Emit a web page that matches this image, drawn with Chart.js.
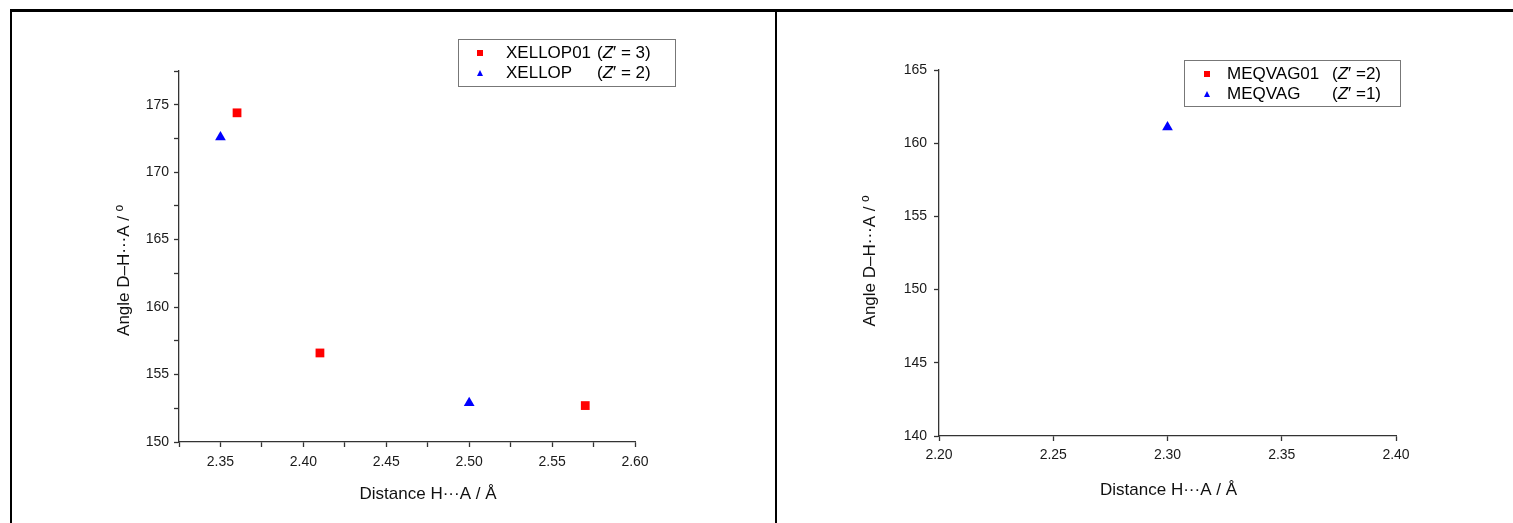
<!DOCTYPE html>
<html>
<head>
<meta charset="utf-8">
<script src="https://cdn.jsdelivr.net/npm/chart.js@4"></script>
<style>
body { margin: 0; background: #fff; width: 1513px; height: 523px; overflow: hidden; position: relative; font-family: "Liberation Sans", Arial, sans-serif; }
.line { position: absolute; background: #000; }
canvas { position: absolute; }
.legend { position: absolute; border: 1px solid #777; box-sizing: border-box; }
.item { position: absolute; font-size: 17px; line-height: 20px; color: #000; white-space: nowrap; }
.sq { position: absolute; width: 6px; height: 6px; background: #ff0000; }
.tri { position: absolute; width: 0; height: 0; border-left: 3.5px solid transparent; border-right: 3.5px solid transparent; border-bottom: 6px solid #0000ff; }
</style>
</head>
<body>

<div class="line" style="left:10px;top:9px;width:1503px;height:2.5px"></div>
<div class="line" style="left:10px;top:9px;width:2px;height:514px"></div>
<div class="line" style="left:775px;top:9px;width:2px;height:514px"></div>

<canvas id="leftChart" width="763" height="511" style="left:12px;top:12px"></canvas>
<canvas id="rightChart" width="736" height="511" style="left:777px;top:12px"></canvas>

<!-- legend left -->
<div class="legend" style="left:458px;top:39px;width:218px;height:48px"></div>
<div class="sq" style="left:477px;top:50px"></div>
<div class="item" style="left:506px;top:43px">XELLOP01</div>
<div class="item" style="left:597px;top:43px">(<i>Z</i>′ = 3)</div>
<div class="tri" style="left:476.5px;top:70px"></div>
<div class="item" style="left:506px;top:63px">XELLOP</div>
<div class="item" style="left:597px;top:63px">(<i>Z</i>′ = 2)</div>

<!-- legend right -->
<div class="legend" style="left:1184px;top:60px;width:217px;height:47px"></div>
<div class="sq" style="left:1204px;top:71px"></div>
<div class="item" style="left:1227px;top:64px">MEQVAG01</div>
<div class="item" style="left:1332px;top:64px">(<i>Z</i>′ =2)</div>
<div class="tri" style="left:1203.5px;top:91px"></div>
<div class="item" style="left:1227px;top:84px">MEQVAG</div>
<div class="item" style="left:1332px;top:84px">(<i>Z</i>′ =1)</div>

<script>
// ============================
// DADOS
// ============================

// painel esquerdo
const xellop01X = [2.36, 2.41, 2.57];
const xellop01Y = [174.4, 156.6, 152.7];
const xellopX = [2.35, 2.50];
const xellopY = [172.6, 152.9];

const leftXTicks = [2.325, 2.35, 2.375, 2.40, 2.425, 2.45, 2.475, 2.50, 2.525, 2.55, 2.575, 2.60];
const leftYTicks = [150, 152.5, 155, 157.5, 160, 162.5, 165, 167.5, 170, 172.5, 175, 177.5];

// painel direito
const meqvag01X = [];
const meqvag01Y = [];
const meqvagX = [2.30];
const meqvagY = [161.1];

const rightXTicks = [2.20, 2.25, 2.30, 2.35, 2.40];
const rightYTicks = [140, 145, 150, 155, 160, 165];

const xTitle = 'Distance H···A / Å';
const yTitle = 'Angle D–H···A / º';

function pontos(xs, ys) {
    return xs.map((x, i) => ({x: x, y: ys[i]}));
}

Chart.defaults.font.family = '"Liberation Sans", Arial, sans-serif';
Chart.defaults.color = '#1a1a1a';

// ============================
// TITULOS DOS EIXOS
// ============================

const axisTitles = {
    id: 'axisTitles',
    afterDraw(chart, args, opts) {
        const {ctx, chartArea} = chart;
        const midX = (chartArea.left + chartArea.right) / 2;
        const midY = (chartArea.top + chartArea.bottom) / 2;
        ctx.save();
        ctx.font = '17px "Liberation Sans", Arial, sans-serif';
        ctx.fillStyle = '#111';
        ctx.textAlign = 'center';
        ctx.textBaseline = 'middle';
        ctx.fillText(xTitle, midX + opts.xShift, chartArea.bottom + opts.xGap);
        ctx.translate(chartArea.left - opts.yGap, midY + opts.yShift);
        ctx.rotate(-Math.PI / 2);
        ctx.fillText(yTitle, 0, 0);
        ctx.restore();
    }
};

function eixo(ticks, min, max, fmt, size, horizontal, pad) {
    return {
        type: 'linear',
        min: min,
        max: max,
        afterBuildTicks: s => { s.ticks = ticks.map(v => ({value: v})); },
        afterFit: s => { if (horizontal) { s.height = size; } else { s.width = size; } },
        border: {display: true, color: '#333', width: 1.3},
        grid: {drawOnChartArea: false, drawTicks: true, tickLength: 5, tickColor: '#333', tickWidth: 1.3},
        ticks: {
            autoSkip: false,
            maxRotation: 0,
            padding: pad,
            font: {size: 14},
            color: '#1a1a1a',
            callback: fmt
        }
    };
}

function criar(id, sets, xAxis, yAxis, pad, titles) {
    return new Chart(document.getElementById(id), {
        type: 'scatter',
        data: {datasets: sets},
        options: {
            responsive: false,
            animation: false,
            layout: {padding: pad, autoPadding: false},
            scales: {x: xAxis, y: yAxis},
            plugins: {
                legend: {display: false},
                tooltip: {enabled: false},
                axisTitles: titles
            }
        },
        plugins: [axisTitles]
    });
}

function serie(label, xs, ys, style, color) {
    return {
        label: label,
        data: pontos(xs, ys),
        pointStyle: style,
        pointRadius: 6.2,
        backgroundColor: color,
        borderColor: color,
        borderWidth: 0
    };
}

const labelX = v => (Math.abs(v * 20 - Math.round(v * 20)) < 1e-6) ? v.toFixed(2) : '';
const labelY = v => (v % 5 === 0) ? String(v) : '';

// ============================
// GRAFICO ESQUERDO
// ============================

criar('leftChart',
    [
        serie('XELLOP01 (Z′ = 3)', xellop01X, xellop01Y, 'rect', '#ff0000'),
        serie('XELLOP (Z′ = 2)', xellopX, xellopY, 'triangle', '#0000ff')
    ],
    eixo(leftXTicks, 2.325, 2.60, labelX, 81, true, 7),
    eixo(leftYTicks, 150, 177.5, labelY, 167, false, 5),
    {left: 0, top: 59, right: 140, bottom: 0},
    {xShift: 21, xGap: 52, yGap: 55, yShift: 14}
);

// ============================
// GRAFICO DIREITO
// ============================

criar('rightChart',
    [
        serie('MEQVAG01 (Z′ =2)', meqvag01X, meqvag01Y, 'rect', '#ff0000'),
        serie('MEQVAG (Z′ =1)', meqvagX, meqvagY, 'triangle', '#0000ff')
    ],
    eixo(rightXTicks, 2.20, 2.40, labelX, 87, true, 6),
    eixo(rightYTicks, 140, 165, labelY, 162, false, 7),
    {left: 0, top: 58, right: 117, bottom: 0},
    {xShift: 1, xGap: 54, yGap: 69, yShift: 8}
);
</script>
</body>
</html>
